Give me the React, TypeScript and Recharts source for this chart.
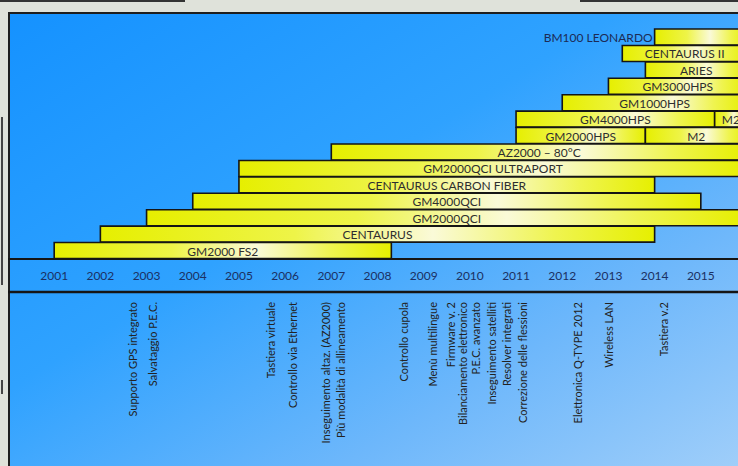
import { Bar, BarChart, LabelList, Scatter, ScatterChart, XAxis, YAxis } from 'recharts';

// products, top row first
const products = [
  'BM100 LEONARDO',
  'CENTAURUS II',
  'ARIES',
  'GM3000HPS',
  'GM1000HPS',
  'GM4000HPS',
  'GM2000HPS',
  'AZ2000 – 80°C',
  'GM2000QCI ULTRAPORT',
  'CENTAURUS CARBON FIBER',
  'GM4000QCI',
  'GM2000QCI',
  'CENTAURUS',
  'GM2000 FS2',
];
const starts = [2014, 2013.3, 2013.8, 2013, 2012, 2011, 2011, 2007, 2005, 2005, 2004, 2003, 2002, 2001];
const ends = [2016, 2016, 2016, 2016, 2016, 2015.3, 2013.8, 2016, 2016, 2014, 2015, 2016, 2014, 2008.3];
// follow-up model on the same row (M2 replaces the HPS mounts)
const successors = ['', '', '', '', '', 'M2', 'M2', '', '', '', '', '', '', ''];
const successorEnds = [0, 0, 0, 0, 0, 2016, 2016, 0, 0, 0, 0, 0, 0, 0];

const years = [2001, 2002, 2003, 2004, 2005, 2006, 2007, 2008, 2009, 2010, 2011, 2012, 2013, 2014, 2015];

const features = [
  'Supporto GPS integrato',
  'Salvataggio P.E.C.',
  'Tastiera virtuale',
  'Controllo via Ethernet',
  'Inseguimento altaz. (AZ2000)',
  'Più modalità di allineamento',
  'Controllo cupola',
  'Menù multilingue',
  'Firmware v. 2',
  'Bilanciamento elettronico',
  'P.E.C. avanzato',
  'Inseguimento satelliti',
  'Resolver integrati',
  'Correzione delle flessioni',
  'Elettronica Q-TYPE 2012',
  'Wireless LAN',
  'Tastiera v.2',
];
const featureYears = [
  2002.7, 2003.12, 2005.68, 2006.17, 2006.87, 2007.19, 2008.56, 2009.19, 2009.59, 2009.84, 2010.13, 2010.46,
  2010.8, 2011.13, 2012.33, 2013.0, 2014.19,
];

const FONT = 'Lato, "Open Sans", sans-serif';

const rows = products.map((name, i) => ({
  name,
  pad: starts[i],
  main: ends[i] - starts[i],
  next: successorEnds[i] ? successorEnds[i] - ends[i] : 0,
  nextName: successors[i],
}));

const featurePoints = features.map((label, i) => ({ x: featureYears[i], y: 1, label }));

const barLabel = (props: any) => {
  const { x, y, width, height, value } = props;
  if (!value || !width) return null;
  const tooWide = String(value).length * 7.5 > width - 4;
  if (tooWide) {
    return (
      <text x={x - 2} y={y + height / 2} textAnchor="end" dominantBaseline="central" fontFamily={FONT} fontSize={12} fill="#1c2b55">
        {value}
      </text>
    );
  }
  return (
    <text x={x + width / 2} y={y + height / 2 + 0.5} textAnchor="middle" dominantBaseline="central" fontFamily={FONT} fontSize={12} fill="#2e2e2e">
      {value}
    </text>
  );
};

const yearTick = (props: any) => {
  const { x, y, payload } = props;
  return (
    <text x={x} y={y + 13} textAnchor="middle" fontFamily={FONT} fontSize={12} fill="#1b3063">
      {payload.value}
    </text>
  );
};

const featureShape = (props: any) => {
  const { cx, cy, payload } = props;
  const ty = cy + 10;
  return (
    <text
      x={cx}
      y={ty}
      transform={`rotate(-90 ${cx} ${ty})`}
      textAnchor="end"
      dominantBaseline="central"
      fontFamily={FONT}
      fontSize={11}
      fill="#222"
    >
      {payload.label}
    </text>
  );
};

export default function App() {
  return (
    <div style={{ position: 'absolute', left: 0, top: 0, width: 738, height: 466, overflow: 'hidden', background: '#dfe2da' }}>
      {/* bits of neighbouring boxes at the edges */}
      <div style={{ position: 'absolute', left: 0, top: 0, width: 185, height: 2, background: '#333' }} />
      <div style={{ position: 'absolute', left: 580, top: 0, width: 158, height: 2, background: '#333' }} />
      <div style={{ position: 'absolute', left: 1, top: 117, width: 2, height: 168, background: '#444' }} />
      <div style={{ position: 'absolute', left: 1, top: 380, width: 2, height: 14, background: '#444' }} />

      <div
        style={{
          position: 'absolute',
          left: 8,
          top: 12,
          width: 760,
          height: 470,
          boxSizing: 'border-box',
          borderTop: '2px solid #1e1e1e',
          borderLeft: '2px solid #1e1e1e',
          background: 'linear-gradient(to bottom right, #1592ff 0%, #2fa2ff 40%, #6db7fb 70%, #a6d1f9 100%)',
        }}
      />

      <div style={{ position: 'absolute', left: 8, top: 12 }}>
        <BarChart
          width={739}
          height={280}
          data={rows}
          layout="vertical"
          barCategoryGap={0}
          margin={{ top: 17, right: 0, bottom: 0, left: 0 }}
        >
          <defs>
            <linearGradient id="barFill" x1="0" y1="0" x2="1" y2="0">
              <stop offset="0%" stopColor="#e6ef00" />
              <stop offset="35%" stopColor="#eef448" />
              <stop offset="60%" stopColor="#fafad8" />
              <stop offset="82%" stopColor="#eff450" />
              <stop offset="100%" stopColor="#e6ef00" />
            </linearGradient>
          </defs>
          <XAxis
            type="number"
            domain={[2000, 2016]}
            ticks={years}
            allowDataOverflow
            height={33}
            tickLine={false}
            axisLine={{ stroke: '#151515', strokeWidth: 2 }}
            tick={yearTick}
          />
          <YAxis type="category" dataKey="name" hide />
          <Bar dataKey="pad" stackId="t" fill="transparent" stroke="none" isAnimationActive={false} />
          <Bar dataKey="main" stackId="t" fill="url(#barFill)" stroke="#151515" strokeWidth={1.6} isAnimationActive={false}>
            <LabelList dataKey="name" content={barLabel} />
          </Bar>
          <Bar dataKey="next" stackId="t" fill="url(#barFill)" stroke="#151515" strokeWidth={1.6} isAnimationActive={false}>
            <LabelList dataKey="nextName" content={barLabel} />
          </Bar>
        </BarChart>
      </div>

      <div style={{ position: 'absolute', left: 8, top: 282 }}>
        <ScatterChart width={739} height={184} margin={{ top: 0, right: 0, bottom: 0, left: 0 }}>
          <XAxis
            type="number"
            dataKey="x"
            domain={[2000, 2016]}
            allowDataOverflow
            orientation="top"
            height={10}
            tick={false}
            tickLine={false}
            axisLine={{ stroke: '#151515', strokeWidth: 2.5 }}
          />
          <YAxis type="number" dataKey="y" domain={[0, 1]} hide />
          <Scatter data={featurePoints} shape={featureShape} isAnimationActive={false} />
        </ScatterChart>
      </div>
    </div>
  );
}
